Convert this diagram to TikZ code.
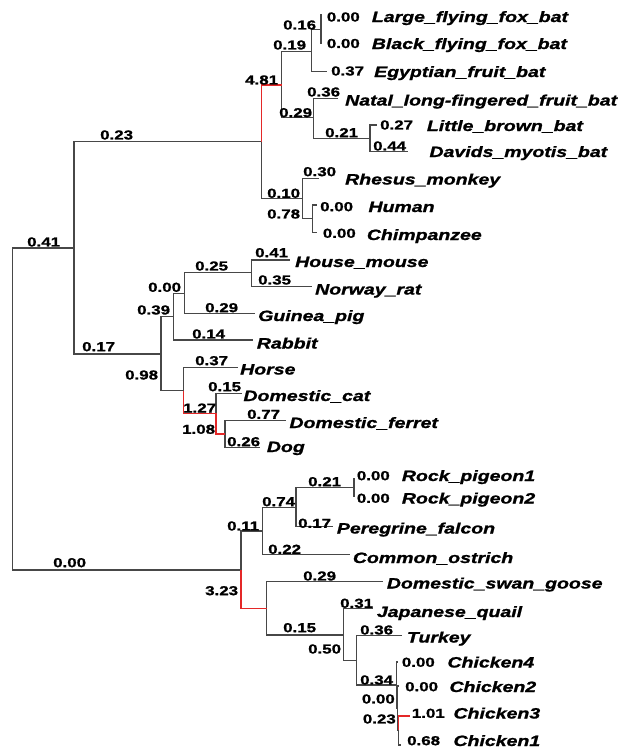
\documentclass[tikz,border=0pt]{standalone}
\usepackage{fontspec}
\setmainfont{Liberation Sans}
\newfontfamily\treefont[FakeStretch=1.3,FakeBold=1.2]{Liberation Sans}
\definecolor{hotred}{RGB}{228,40,40}

\tikzset{
  branch/.style={draw=black!72, line width=1.3pt},
  hot/.style={draw=hotred, line width=1.3pt},
  blen/.style={anchor=west, inner sep=0pt, font=\treefont\bfseries\fontsize{13}{13}\selectfont},
  leaf/.style={anchor=base west, inner sep=0pt, font=\treefont\bfseries\itshape\fontsize{15}{15}\selectfont},
}

\begin{document}
\begin{tikzpicture}[x=1pt,y=-1pt]
        \path[fill=white] (0,0) rectangle (628,753);

        % internal nodes and leaf tips
        \foreach \n/\x/\y in {R/12.3/409, M/74/248, BP/261.7/141.7, BA/281.7/85, PT/311.7/51.7,
                FX/321/29.5, VE/313.3/117.7, MY/370/138.3, PR/302.7/198.3, HC/312.7/218.3,
                OM/161/354, GL/173.7/316.7, RO/184.3/293.3, MR/251.7/272.7, LA/183.3/390.7,
                CA/216/413.3, FD/225/434, B/241/570, NB/262.7/531, PF/296/507.7, PG/354/487.7,
                GA/266.7/608.3, PH/343.3/635, TC/356.7/660.7, CH/396.5/685, C2/397.5/708,
                C31/398.5/730} {
                \coordinate (\n) at (\x,\y);
        }
        \foreach \n/\x/\y in {L1/322/15, L2/322/43.3, L3/327.3/71.7, L4/338/98.3, L5/376.7/125,
                L6/408.3/151.7, L7/319.3/178.3, L8/316.7/205, L9/316.7/232.7, L10/290/260,
                L11/311.7/286.7, L12/255/313.3, L13/253.3/340, L14/238.3/367.3, L15/241.7/393.3,
                L16/286/420.7, L17/260/447.3, L18/355/478.3, L19/355/496.7, L20/333.3/526.7,
                L21/350/554.3, L22/383.3/581.7, L23/373.3/608.3, L24/401.7/635.7, L25/397/662,
                L26/398/686, L27/410/716, L28/401/745} {
                \coordinate (\n) at (\x,\y);
        }

        % branches
        \foreach \a/\b in {R/M, R/B, M/BP, M/OM, BA/PT, BA/VE, PT/FX, PT/L3, FX/L1, FX/L2,
                VE/L4, VE/MY, MY/L5, MY/L6, BP/PR, PR/L7, PR/HC, HC/L8, HC/L9,
                OM/GL, OM/LA, GL/RO, GL/L13, RO/MR, RO/L12, MR/L10, MR/L11,
                LA/L14, CA/L15, FD/L16, FD/L17, B/NB, NB/PF, NB/L21, PF/PG, PF/L20,
                PG/L18, PG/L19, GA/L22, GA/PH, PH/L23, PH/TC, TC/L24, TC/CH,
                CH/L25, CH/C2, C2/L26, C2/C31, C31/L28} {
                \draw[branch] (\a) |- (\b);
        }
        \foreach \a/\b in {BP/BA, LA/CA, CA/FD, B/GA, C31/L27} {
                \draw[hot] (\a) |- (\b);
        }

        % branch lengths
        \foreach \x/\y/\t [count=\i] in {27/242/0.41, 100/135/0.23, 82/346.7/0.17, 53/562.7/0.00,
                245/80/4.81, 273/45/0.19, 283/25/0.16, 326.7/17/0.00, 326.7/43.5/0.00,
                331/71/0.37, 279/112.7/0.29, 307/92/0.36, 325/132.7/0.21, 380/125/0.27,
                373/146/0.44, 267/193.3/0.10, 267/214/0.78, 303/171.7/0.30, 320/206.7/0.00,
                322.7/233.3/0.00, 137/310/0.39, 125/375/0.98, 148/287.3/0.00, 195/266/0.25,
                255/252.7/0.41, 258/280/0.35, 205/307.7/0.29, 192/334/0.14, 195/360.7/0.37,
                183/408/1.27, 208/386.7/0.15, 182/429.3/1.08, 247/414.3/0.77, 227/441.7/0.26,
                227/526/0.11, 205/590.7/3.23, 262/501.7/0.74, 308/481.7/0.21, 356.7/475.7/0.00,
                356.7/498.3/0.00, 298/523.3/0.17, 268/549.3/0.22, 303/576/0.29, 283/627.7/0.15,
                340/603.3/0.31, 308/649/0.50, 360/630/0.36, 360/680/0.34, 361.7/699/0.00,
                362.7/719/0.23, 401.7/662.3/0.00, 405/686.7/0.00, 411.7/713.3/1.01, 407/740.7/0.68} {
                \node[blen] (len\i) at (\x,\y) {\t};
        }

        % species
        \foreach \n/\x/\y/\t in {lfox/371.7/22/Large\_flying\_fox\_bat,
                bfox/371.7/49/Black\_flying\_fox\_bat,
                egypt/374/77/Egyptian\_fruit\_bat,
                natal/345/105.5/Natal\_long-fingered\_fruit\_bat,
                lbrown/426.7/131/Little\_brown\_bat,
                davids/429.3/157/Davids\_myotis\_bat,
                rhesus/345/184.5/Rhesus\_monkey,
                human/368.3/212/Human,
                chimp/366.7/240/Chimpanzee,
                mouse/295/267/House\_mouse,
                rat/315/294.5/Norway\_rat,
                guinea/258/321/Guinea\_pig,
                rabbit/256.7/348.5/Rabbit,
                horse/240/374.5/Horse,
                cat/243.3/401/Domestic\_cat,
                ferret/289.3/428/Domestic\_ferret,
                dog/266.7/452/Dog,
                pigA/401.7/481/Rock\_pigeon1,
                pigB/401.7/503.5/Rock\_pigeon2,
                falcon/336.7/533.5/Peregrine\_falcon,
                ostrich/352.7/563/Common\_ostrich,
                goose/386.7/588.5/Domestic\_swan\_goose,
                quail/376.7/617/Japanese\_quail,
                turkey/406.7/642.5/Turkey,
                chickD/447.3/667.5/Chicken4,
                chickB/449.3/692/Chicken2,
                chickC/453.3/718.5/Chicken3,
                chickA/453.3/746/Chicken1} {
                \node[leaf] (\n) at (\x,\y) {\t};
        }

        \useasboundingbox (0,0) rectangle (628,753);
\end{tikzpicture}
\end{document}
